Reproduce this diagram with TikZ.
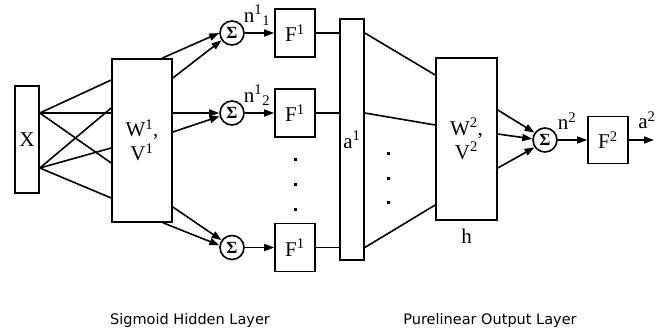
\documentclass[tikz,border=0pt]{standalone}
\usepackage{fontspec}
\setmainfont{Liberation Serif}
\newfontfamily\layerfont{DejaVu Sans}
\usetikzlibrary{arrows.meta, positioning, calc}

\begin{document}
\begin{tikzpicture}[
      x=1pt, y=-1pt,
      every node/.style={font=\fontsize{21}{24}\selectfont},
      box/.style={rectangle, draw, line width=1.6pt, inner sep=0pt, align=center},
      sum/.style={circle, draw, line width=1.6pt, minimum size=24pt, inner sep=0pt, font=\fontsize{17}{17}\selectfont\bfseries},
      lbl/.style={inner sep=0pt},
      link/.style={line width=1.6pt},
      arrow/.style={-{Triangle[length=10pt,width=7pt]}, line width=1.6pt},
      layer/.style={inner sep=0pt, font=\layerfont\fontsize{14.5}{17}\selectfont}
    ]
      \useasboundingbox (0,0) rectangle (664,335);
      % hidden layer
      \node[box, minimum width=24pt, minimum height=107pt] (x) at (27,139.5) {X};
      \node[box, minimum width=60pt, minimum height=163pt] (w1) at (142,140.5) {W\textsuperscript{1},\\V\textsuperscript{1}};
      \node[sum] (s1) at (232,33) {Σ};
      \node[sum] (s2) at (232,113) {Σ};
      \node[sum] (s3) at (232,247.5) {Σ};
      \node[box, minimum width=40pt, minimum height=48pt] (f1) at (295,33) {F\textsuperscript{1}};
      \node[box, minimum width=40pt, minimum height=48pt] (f2) at (295,113) {F\textsuperscript{1}};
      \node[box, minimum width=40pt, minimum height=48pt] (f3) at (295,247.5) {F\textsuperscript{1}};
      \node[lbl] (n11) at (257,15) {n\textsuperscript{1}\textsubscript{1}};
      \node[lbl] (n12) at (257,95) {n\textsuperscript{1}\textsubscript{2}};
      % output layer
      \node[box, minimum width=24pt, minimum height=241pt] (a1) at (352,139.5) {a\textsuperscript{1}};
      \node[box, minimum width=61pt, minimum height=162pt] (w2) at (466.5,139) {W\textsuperscript{2},\\V\textsuperscript{2}};
      \node[lbl, below=8pt of w2] (h) {h};
      \node[sum] (s4) at (545,140) {Σ};
      \node[box, minimum width=40pt, minimum height=47pt] (fo) at (608,140) {F\textsuperscript{2}};
      \node[lbl] (n2) at (567,121) {n\textsuperscript{2}};
      \node[lbl] (a2) at (647,120) {a\textsuperscript{2}};
      \coordinate (out) at (654,140);
      \node[layer] (hidden) at (190,320) {Sigmoid Hidden Layer};
      \node[layer] (output) at (490,320) {Purelinear Output Layer};

      \foreach \t in {60.5,27.5,-22.5}
        \draw[link] ([yshift=26.5pt]x.east) -- ([yshift=\t pt]w1.west);
      \foreach \t in {32.5,-7.5,-57.5}
        \draw[link] ([yshift=-28.5pt]x.east) -- ([yshift=\t pt]w1.west);

      \draw[arrow] ([xshift=20pt]w1.north) -- (s1.180);
      \draw[arrow] ([yshift=62.5pt]w1.east) -- (s1.215);
      \draw[arrow] ([yshift=27.5pt]w1.east) -- (s2.west);
      \draw[arrow] ([yshift=8.5pt]w1.east) -- (s2.195);
      \draw[arrow] ([yshift=-66.5pt]w1.east) -- (s3.145);
      \draw[arrow] ([xshift=21pt]w1.south) -- (s3.170);
      \draw[arrow] (s1) -- (f1);
      \draw[arrow] (s2) -- (f2);
      \draw[arrow] (s3) -- (f3);

      \draw[link] (f1.east) -- (f1.east -| a1.west);
      \draw[link] (f2.east) -- (f2.east -| a1.west);
      \draw[link] (f3.east) -- (f3.east -| a1.west);
      \draw[link] (f1.east -| a1.east) -- ([yshift=64pt]w2.west);
      \draw[link] (f2.east -| a1.east) -- ([yshift=14pt]w2.west);
      \draw[link] (f3.east -| a1.east) -- ([yshift=-66pt]w2.west);

      \draw[arrow] ([yshift=29pt]w2.east) -- (s4.145);
      \draw[arrow] ([yshift=5pt]w2.east) -- (s4.175);
      \draw[arrow] ([yshift=-29pt]w2.east) -- (s4.215);
      \draw[arrow] (s4) -- (fo);
      \draw[arrow] (fo) -- (out);

      % dots
      \foreach \y in {159,184,209}
        \fill (293.5,\y-1.5) rectangle ++(3,3);
      \foreach \y in {153,178,202}
        \fill (386.5,\y-1.5) rectangle ++(3,3);
    \end{tikzpicture}
\end{document}
